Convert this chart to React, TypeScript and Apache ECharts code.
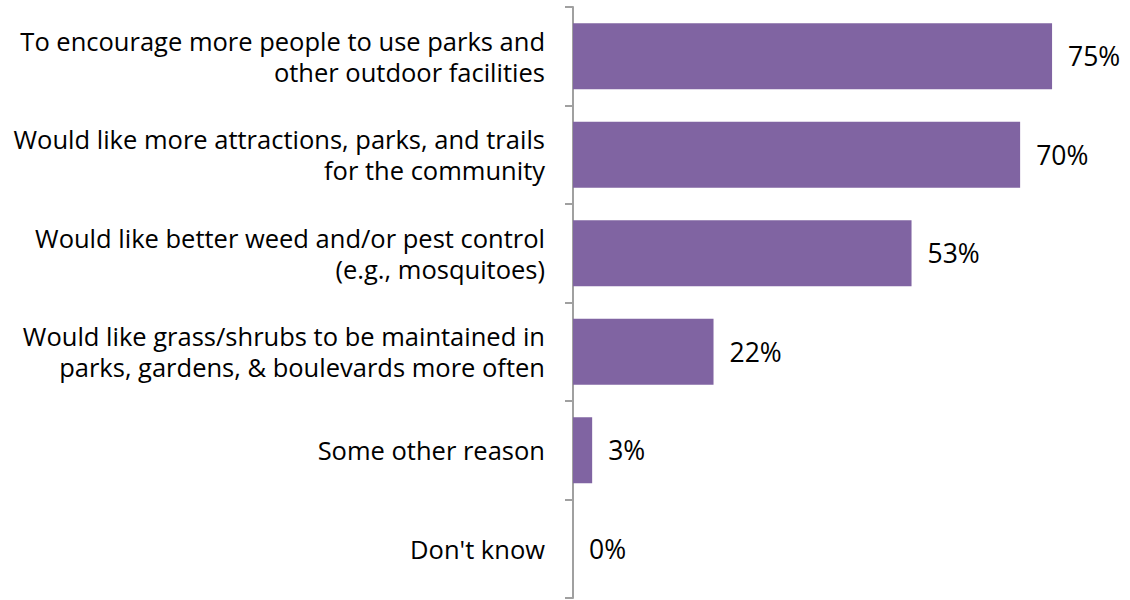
import React, { useEffect, useRef } from "react";
import * as echarts from "echarts";

const categories = [
  "To encourage more people to use parks and\nother outdoor facilities",
  "Would like more attractions, parks, and trails\nfor the community",
  "Would like better weed and/or pest control\n(e.g., mosquitoes)",
  "Would like grass/shrubs to be maintained in\nparks, gardens, & boulevards more often",
  "Some other reason",
  "Don't know",
];
const values = [75, 70, 53, 22, 3, 0];

export default function App() {
  const ref = useRef<HTMLDivElement>(null);
  useEffect(() => {
    if (!ref.current) return;
    const chart = echarts.init(ref.current, undefined, { renderer: "svg" });
    chart.setOption({
      animation: false,
      grid: { left: 573, top: 7, bottom: 2, right: 46, containLabel: false },
      xAxis: {
        type: "value",
        min: 0,
        max: 80,
        show: false,
      },
      yAxis: {
        type: "category",
        inverse: true,
        data: categories,
        axisLine: { show: true, lineStyle: { color: "#A0A0A0", width: 2 } },
        axisTick: { show: true, length: 8, lineStyle: { color: "#A0A0A0", width: 2 } },
        axisLabel: {
          margin: 28,
          color: "#000",
          fontFamily: "'Open Sans', sans-serif",
          fontSize: 25.5,
          lineHeight: 31,
          align: "right",
        },
      },
      series: [
        {
          type: "bar",
          data: values,
          barWidth: "67%",
          itemStyle: { color: "#8064A2" },
          label: {
            show: true,
            position: "right",
            distance: 16,
            formatter: "{c}%",
            color: "#000",
            fontFamily: "'Open Sans', sans-serif",
            fontSize: 26.5,
          },
        },
      ],
    });
    return () => chart.dispose();
  }, []);
  return (
    <div
      ref={ref}
      style={{ position: "absolute", left: 0, top: 0, width: 1130, height: 600, background: "#fff" }}
    />
  );
}
